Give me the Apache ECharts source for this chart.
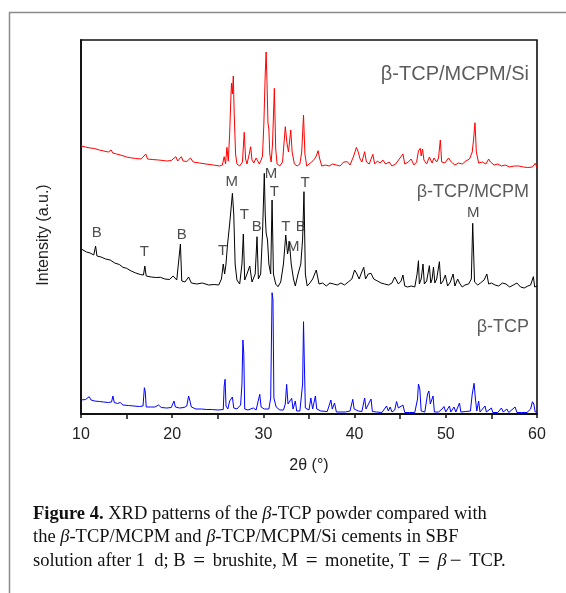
<!DOCTYPE html>
<html>
<head>
<meta charset="utf-8">
<script src="https://cdn.jsdelivr.net/npm/echarts@6/dist/echarts.min.js"></script>
<style>
html,body{margin:0;padding:0;background:#fff;}
#c{width:566px;height:593px;}
</style>
</head>
<body>
<div id="c"></div>
<script>
// ---- data (2θ in degrees, intensity in arbitrary units, offset per pattern) ----
var redX = [10.0,10.5,11.0,11.5,11.7,12.0,12.5,13.0,13.3,13.5,13.7,13.9,14.5,15.0,15.4,16.0,16.6,17.1,17.3,17.8,18.5,19.0,19.4,19.9,20.4,20.6,21.0,21.2,21.6,22.0,22.3,23.0,23.7,24.5,25.2,25.5,25.7,25.85,26.0,26.15,26.3,26.45,26.5,26.6,26.7,26.8,26.95,27.1,27.4,27.7,27.9,28.05,28.2,28.45,28.6,28.75,28.95,29.2,29.4,29.55,29.75,29.9,30.05,30.2,30.3,30.4,30.5,30.6,30.7,30.85,31.0,31.2,31.35,31.5,31.8,32.1,32.4,32.6,32.75,33.0,33.15,33.4,33.7,34.0,34.2,34.4,34.55,34.75,35.0,35.3,35.6,35.8,36.0,36.15,36.4,36.8,37.2,37.6,38.0,38.4,38.8,39.2,39.5,39.9,40.2,40.4,40.6,40.8,41.1,41.3,41.6,42.0,42.2,42.5,42.8,43.1,43.4,43.8,44.1,44.5,44.9,45.3,45.5,45.9,46.2,46.5,46.8,47.0,47.2,47.3,47.45,47.6,47.9,48.2,48.5,48.7,49.0,49.2,49.4,49.55,49.9,50.3,50.6,51.0,51.4,51.8,52.2,52.6,52.9,53.05,53.2,53.35,53.6,54.0,54.4,54.7,54.9,55.3,55.7,56.1,56.5,57.0,57.5,58.0,58.5,59.0,59.5,59.8,60.0];
var redY = [268,267,266,265.5,264.7,264,263,262,264,261,263,260,258.5,257,256.3,255.5,255,260,255,254.5,254,253.5,253,253.5,257.3,253,257.3,253,252.5,256,252,251,250,249,248,249,257.3,250,266.7,253,280,320,330.7,320,338,300,260,250,248,252,281.7,255,250,260,267.3,254,251,256,256,250,254,258,290,340,362,330,291,285,260,252,270,325.7,265,250,248,252,287.3,270,262,284,262,250,248,250,262,299,260,248,250,252,255,258,263.3,256,248,249,248,250,249,248,252,252.3,249,258,266.7,262,255,252,262.3,252,250,259.7,250,253,251,254,250,252,248,250,255,260,250,252,255,249,252,263,265.7,258,265,254,250,257,251,256,252,256,274,252,251,256,252,249,251,250,253,255,262,275,291.3,262,251,252,250,255,252,249,250,248,249,247,248,248,247,246.5,247,250.7,247];

var blackX = [10.1,10.6,11.0,11.4,11.6,11.75,12.2,12.7,13.2,13.7,14.2,14.6,15.0,15.5,16.0,16.5,16.85,17.0,17.15,17.7,18.2,18.7,19.2,19.7,20.1,20.5,20.9,21.05,21.4,21.8,22.1,22.7,23.3,24.0,24.6,25.1,25.4,25.6,25.75,25.9,26.05,26.3,26.45,26.6,26.75,26.9,27.1,27.4,27.65,27.8,27.95,28.2,28.5,28.75,29.1,29.3,29.45,29.7,29.9,30.05,30.1,30.2,30.3,30.45,30.6,30.8,30.95,31.1,31.35,31.6,31.9,32.2,32.45,32.65,32.85,33.05,33.3,33.5,33.8,34.1,34.3,34.45,34.6,34.8,35.1,35.4,35.8,36.1,36.5,36.9,37.3,37.7,38.1,38.5,38.9,39.3,39.7,40.0,40.2,40.5,40.7,41.0,41.2,41.5,41.8,42.1,42.5,42.9,43.3,43.7,44.1,44.4,44.6,44.8,45.1,45.3,45.5,45.8,46.2,46.6,46.85,47.0,47.1,47.3,47.5,47.65,47.9,48.2,48.35,48.5,48.65,48.8,49.0,49.3,49.45,49.7,49.95,50.2,50.5,50.8,51.0,51.3,51.5,51.8,52.1,52.5,52.8,52.95,53.15,53.5,53.8,54.2,54.5,54.7,55.0,55.4,55.8,56.2,56.6,57.0,57.4,57.8,58.2,58.6,59.0,59.3,59.6,59.75,60.0];
var blackY = [164.7,162,161,159,168,158,157,155,154,151,149.5,146.7,145.7,143,141,139.5,139,148,138,137,136.5,136.7,135,134.5,138,134,170,133,132,137,131,130,131,129,129.5,129,135,150,140,150,168,190,205,220.7,200,150,134,130,150,180,134,140,148,132,140,177.3,135,140,180,225,240.7,200,181,174,150,140,214,140,130,127.3,132,150,179,160,172.3,150,135,128,140,150,175,222.3,140,128,131,135,144,130,131,128,131,130,129,131,129,132,135,144,141,135,140,146.7,135,140,140.7,135,133,131,130,129,131,137,139,130,133,139,128,127,128,127,140,153.3,130,135,150,130,133,148.3,131,135,147,131,135,152.3,130,133,139,128,132,140,128,135,131,127,129,130,135,190.7,132,129,131,134,140,130,131,129,128,131,130,127,129,131,127,126,128,129,137.3,127,128];

var blueX = [10.0,10.5,10.9,11.1,11.5,12.0,12.5,13.0,13.35,13.5,13.65,14.0,14.3,14.6,15.2,15.8,16.4,16.8,16.95,17.05,17.15,17.6,18.1,18.5,18.8,19.4,19.9,20.2,20.35,20.8,21.3,21.6,21.8,21.95,22.1,22.6,23.2,23.8,24.4,25.0,25.6,25.7,25.8,25.9,26.1,26.3,26.6,26.75,27.1,27.5,27.65,27.75,27.85,27.95,28.3,28.9,29.2,29.6,29.75,30.1,30.6,30.8,30.95,31.05,31.15,31.4,31.8,32.2,32.4,32.55,32.7,32.85,33.1,33.25,33.5,33.65,34.0,34.3,34.4,34.5,34.6,35.0,35.2,35.4,35.7,35.85,36.3,37.0,37.4,37.55,37.8,38.0,38.5,39.0,39.5,39.8,39.95,40.4,40.8,41.1,41.25,41.8,41.95,42.4,43.0,43.5,43.7,43.9,44.1,44.4,44.6,44.8,45.0,45.3,45.5,46.0,46.6,46.9,47.0,47.15,47.3,47.7,48.0,48.15,48.3,48.6,48.75,49.2,49.6,49.8,50.0,50.4,50.55,50.9,51.1,51.5,51.65,52.2,52.7,52.9,53.1,53.25,53.4,53.6,53.75,54.3,54.45,55.0,55.15,55.7,56.1,56.3,56.7,56.9,57.6,57.8,58.3,58.9,59.3,59.5,59.65,59.8,60.0];
var blueY = [14,14.5,17.3,14,13,12.5,12,11.5,12,18,11.5,10.5,11.5,9,8.5,8,7.5,8,26.3,22,7,7,7,9,6.5,6,6.5,13,7,6,6.5,8,18,13,7,5,5,4.5,4.5,4,4.5,28,34.7,8,5,13,17,6,5,9,30,74,60,5,4,6,4,19.7,7,5,5,16,121.3,114,16,7,4,4,10,29.7,10,8,15.7,5,13,3,3,30,92.3,46,6,4,16,5,18,5,3,2.5,14,5,11,2,2,2,3,14.7,5,3,2.5,16,5,15,2.5,2,1.5,8,3,7,2,4,12.5,6,4,9,1.5,1.5,1.5,15,30,25,3,2,20,23,10,18,2,2,5,7.5,2,8,2,7,2,11,2,2.5,3,20,30.7,15,3,13,2,8,2,6,1.5,1.5,6,2,5,1.5,7,1.5,1.5,1.5,5,12.3,10,2,2];

// phase annotations on the β-TCP/MCPM pattern
var annText = ['B','T','B','T','M','T','B','M','T','T','M','B','T','M'];
var annX    = [11.72,16.94,21.04,25.53,26.52,27.9,29.27,30.83,31.2,32.45,33.28,34.09,34.56,53.0];
var annY    = [180.7,162.3,179,163.3,232.3,199,187.3,240,222,187.3,167.3,187.3,230.7,200.7];

// pattern names
var nameText = ['β-TCP/MCPM/Si','β-TCP/MCPM','β-TCP'];
var nameX    = [59.12,59.12,59.12];
var nameY    = [340,221.7,87.3];
var nameSize = [20,18,18];

var xTicks = [10,20,30,40,50,60];

function zip(xs, ys){ var o=[]; for(var i=0;i<xs.length;i++) o.push([xs[i],ys[i]]); return o; }

var chart = echarts.init(document.getElementById('c'), null, {renderer:'canvas'});

var annData = annX.map(function(x,i){ return {value:[x,annY[i]], label:{formatter:annText[i]}}; });
var nameData = nameX.map(function(x,i){ return {value:[x,nameY[i]], label:{formatter:nameText[i], fontSize:nameSize[i]}}; });

var SERIF = '"Liberation Serif", "Times New Roman", serif';
var capRich = {
  b:{fontWeight:'bold', fontSize:18.5, fontFamily:'Liberation Serif', color:'#111'},
  i:{fontStyle:'italic', fontSize:18.5, fontFamily:'Liberation Serif', color:'#444'},
  op:{fontSize:21, fontFamily:'Liberation Serif', color:'#111', padding:[0,3,0,3]}
};

var option = {
  animation:false,
  backgroundColor:'#fff',
  grid:{left:81, right:29, top:40, bottom:179, show:true, borderColor:'#111', borderWidth:1.6, backgroundColor:'transparent'},
  xAxis:{
    type:'value', min:xTicks[0], max:xTicks[xTicks.length-1], interval:10,
    axisLine:{show:true, lineStyle:{color:'#111', width:1.8}},
    axisTick:{show:true, length:4, lineStyle:{color:'#111', width:1.5}},
    minorTick:{show:true, splitNumber:2, length:5, lineStyle:{color:'#111', width:1.5}},
    splitLine:{show:false},
    axisLabel:{margin:13, fontSize:16, color:'#222', fontFamily:'Liberation Sans, Arial, sans-serif'},
    name:'2θ (°)', nameLocation:'middle', nameGap:44,
    nameTextStyle:{fontSize:16, color:'#222', fontFamily:'Liberation Sans, Arial, sans-serif'}
  },
  yAxis:{
    type:'value', min:0, max:374,
    axisLine:{show:true, lineStyle:{color:'#111', width:1.8}},
    axisTick:{show:false}, axisLabel:{show:false}, splitLine:{show:false},
    name:'Intensity (a.u.)', nameLocation:'middle', nameGap:29, nameRotate:90,
    nameTextStyle:{fontSize:16, color:'#222', fontFamily:'Liberation Sans, Arial, sans-serif', padding:[0,16,0,0]}
  },
  series:[
    {type:'line', data:zip(redX, redY), symbol:'none', lineStyle:{color:'#ff0000', width:1}, z:3},
    {type:'line', data:zip(blackX, blackY), symbol:'none', lineStyle:{color:'#000', width:1}, z:3},
    {type:'line', data:zip(blueX, blueY), symbol:'none', lineStyle:{color:'#0000ff', width:1}, z:3},
    {type:'scatter', data:annData, symbolSize:0, z:5,
      label:{show:true, position:'inside', fontSize:15, color:'#222', fontFamily:'Liberation Sans, Arial, sans-serif'}},
    {type:'scatter', data:nameData, symbolSize:0, z:5,
      label:{show:true, position:'left', distance:0, color:'#333', fontFamily:'Liberation Sans, Arial, sans-serif'}}
  ],
  graphic:[
    {type:'line', shape:{x1:9.5,y1:12,x2:9.5,y2:593}, style:{stroke:'#8a8a8a', lineWidth:1.5}, silent:true},
    {type:'line', shape:{x1:9,y1:12.5,x2:566,y2:12.5}, style:{stroke:'#8a8a8a', lineWidth:1.5}, silent:true},
    {type:'text', left:33, top:505, style:{
      text:'{b|Figure 4.} XRD patterns of the {i|β}-TCP powder compared with',
      font:'18.5px ' + SERIF, fill:'#111', rich:capRich
    }},
    {type:'text', left:33, top:528, style:{
      text:'the {i|β}-TCP/MCPM and {i|β}-TCP/MCPM/Si cements in SBF',
      font:'18.5px ' + SERIF, fill:'#111', rich:capRich
    }},
    {type:'text', left:33, top:551, style:{
      text:'solution after 1\u2002d; B {op|=} brushite, M {op|=} monetite, T {op|=} {i|β}{op|−} TCP.',
      font:'18.5px ' + SERIF, fill:'#111', rich:capRich
    }}
  ]
};
chart.setOption(option);
</script>
</body>
</html>
